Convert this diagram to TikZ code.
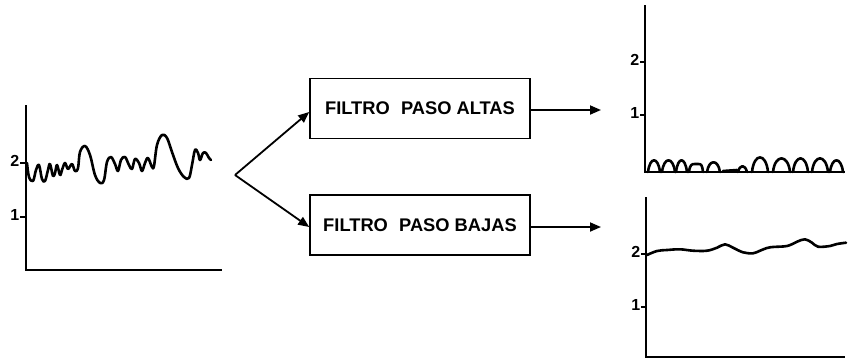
\documentclass[tikz,border=0pt]{standalone}
\usepackage{fontspec}
\setmainfont{Liberation Sans}
\usetikzlibrary{arrows.meta}
\begin{document}
\begin{tikzpicture}[x=1pt,y=-1pt,
  axis/.style={line width=2.2pt},
  tick/.style={line width=1.8pt},
  ticklabel/.style={font=\bfseries\fontsize{16}{16}\selectfont, anchor=east, inner sep=0.5pt},
  signal/.style={line width=2.6pt, line join=round, line cap=round},
  filterbox/.style={draw, line width=1.6pt, minimum width=220pt, minimum height=60pt,
    font=\bfseries\fontsize{18.3}{19}\selectfont},
  flow/.style={line width=1.8pt, -{Triangle[length=11pt,width=9pt]}}]
\useasboundingbox (0,0) rectangle (848,360);

% ---- input signal ----
\draw[axis] (26,105) -- (26,270) -- (222,270);
\draw[tick] (20,163) -- (26,163);
\draw[tick] (20,217) -- (26,217);
\node[ticklabel] at (20,161) {2};
\node[ticklabel] at (20,215) {1};
\draw[signal] plot[smooth, tension=0.6] coordinates {
  (27,163) (29,177) (33,181) (36,170) (39,165) (42,179) (45,181) (48,170) (50,164)
  (53,176) (55,173) (57,165) (60,175) (62,170) (65,163) (68,169) (72,164) (75,171)
  (78,168) (80,152) (85,146) (90,155) (95,175) (100,183) (104,180) (107,162) (111,157)
  (115,164) (118,171) (121,160) (125,157) (129,165) (132,169) (135,159) (139,163)
  (142,171) (145,163) (148,158) (152,167) (154,166) (157,145) (162,135) (167,138)
  (172,152) (178,168) (184,177) (189,178) (192,165) (195,150) (198,153) (200,160)
  (203,153) (206,153) (209,158) (211,160)};

% ---- filters ----
\coordinate (split) at (235,175);
\node[filterbox] (hp) at (420,108.5) {FILTRO\,\, PASO ALTAS};
\node[filterbox] (lp) at (420,225) {FILTRO\,\, PASO BAJAS};
\coordinate (hpout) at (601,110);
\coordinate (lpout) at (601,227);
\draw[flow] (split) -- (hp.west |- 0,112);
\draw[flow] (split) -- (lp.west |- 0,227);
\draw[flow] (hp.east |- hpout) -- (hpout);
\draw[flow] (lp.east |- lpout) -- (lpout);

% ---- high-pass output ----
\draw[axis] (645,5) -- (645,172) -- (845,172);
\draw[tick] (640,62) -- (645,62);
\draw[tick] (640,115) -- (645,115);
\node[ticklabel] at (640,60) {2};
\node[ticklabel] at (640,113) {1};
\foreach \a/\b/\h in {648/660/12, 662/675/12, 676/687/12, 707/720/10, 738/747/6,
                      752/768/15, 773/790/14, 793/808/14, 812/828/14, 830/843/12}
  \draw[signal] (\a,172) .. controls (\a+2,172-1.3*\h) and (\b-2,172-1.3*\h) .. (\b,172);
\draw[signal] (689,172) .. controls (690,164) and (692,164) .. (695,164)
  -- (698,164) .. controls (701,164) and (702,164) .. (703,172);
\draw[signal] (723,171) -- (737,170);

% ---- low-pass output ----
\draw[axis] (646,197) -- (646,357) -- (845,357);
\draw[tick] (641,254) -- (646,254);
\draw[tick] (641,307) -- (646,307);
\node[ticklabel] at (641,252) {2};
\node[ticklabel] at (641,305) {1};
\draw[signal] plot[smooth, tension=0.6] coordinates {
  (647,255) (657,251) (667,250) (680,249.3) (693,250.7) (707,250.7) (717,247.7)
  (725,244.3) (733,247.7) (743,252.3) (753,253.3) (760,250.7) (770,247.3) (787,246)
  (797,241.7) (805,239.3) (812,242.7) (818,246.7) (830,246) (837,244) (846,242.7)};
\end{tikzpicture}
\end{document}
